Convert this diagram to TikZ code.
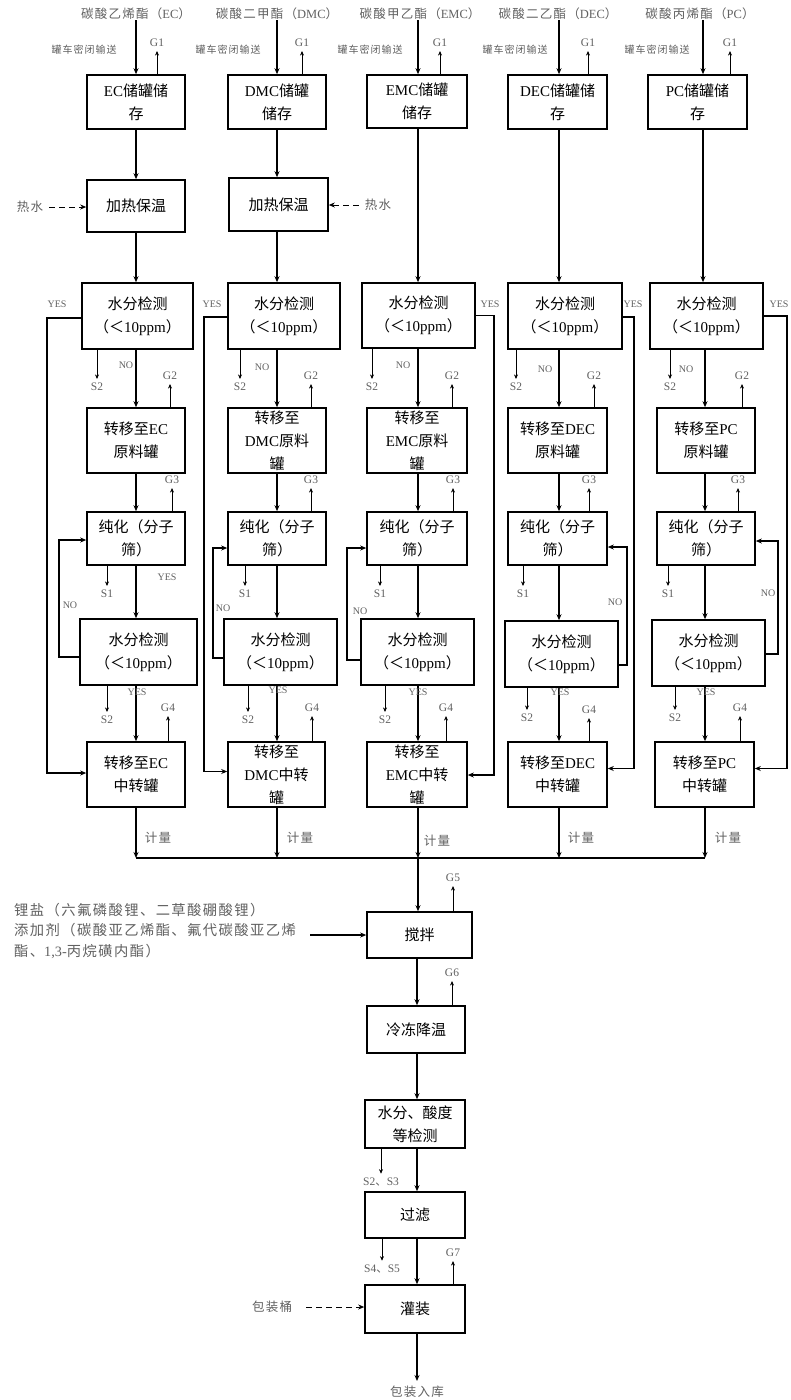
\documentclass[tikz,border=0pt]{standalone}
\usepackage{fontspec}
\setmainfont{Liberation Serif}
\newfontfamily\zh{Noto Sans CJK SC}
\newfontfamily\zhs[LetterSpace=10]{Noto Sans CJK SC}
\usetikzlibrary{arrows.meta}
\definecolor{labgray}{gray}{0.38}
\newcommand\en[1]{{\rmfamily #1}}
\newcommand\zc[1]{{\zh #1}}
\tikzset{
  pbox/.style={draw, line width=1.6pt, inner sep=0pt, align=center, text=black,
               font=\zh\fontsize{15}{23}\selectfont},
  flowline/.style={line width=1.2pt},
  flow/.style={line width=1.2pt, -{Stealth[length=6pt,width=5pt]}},
  dflow/.style={line width=0.9pt, dash pattern=on 6pt off 4pt, -{Stealth[length=6pt,width=5pt]}},
  aux/.style={line width=0.7pt, -{Stealth[length=4.5pt,width=4pt]}},
  lab/.style={text=labgray, inner sep=0pt, font=\rmfamily\fontsize{10}{12}\selectfont},
  glab/.style={text=labgray, inner sep=0pt, font=\rmfamily\fontsize{11.5}{13}\selectfont},
  zlab/.style={text=labgray, inner sep=0pt, font=\zhs\fontsize{12.5}{15}\selectfont},
  zlabs/.style={text=labgray, inner sep=0pt, font=\zhs\fontsize{10}{12}\selectfont},
}
\newcommand\gup[4]{\node[glab] (#1) at #3 {#4};\draw[aux, shorten >=4pt] (#2.north -| #1) -- (#1.south);}
\newcommand\sdn[4]{\node[glab] (#1) at #3 {#4};\draw[aux, shorten >=4pt] (#2.south -| #1) -- (#1.north);}
\begin{document}
\begin{tikzpicture}[x=1pt,y=-1pt]
\fill[white] (0,0) rectangle (790,1400);
\path[use as bounding box] (0,0) rectangle (790,1400);

% column axes
\coordinate (cEC) at (136,0);
\coordinate (cDMC) at (277,0);
\coordinate (cEMC) at (418,0);
\coordinate (cDEC) at (559,0);
\coordinate (cPC) at (705,0);
\coordinate (cPCt) at (703,0);
\coordinate (cM) at (417,0);

% top raw materials
\node[zlab] (tEC) at (136,14) {碳酸乙烯酯（\en{EC}）};
\node[zlab] (tDMC) at (277,14) {碳酸二甲酯（\en{DMC}）};
\node[zlab] (tEMC) at (420,14) {碳酸甲乙酯（\en{EMC}）};
\node[zlab] (tDEC) at (558,14) {碳酸二乙酯（\en{DEC}）};
\node[zlab] (tPC) at (700,14) {碳酸丙烯酯（\en{PC}）};

\node[zlabs] (kEC) at (84,50) {罐车密闭输送};
\node[zlabs] (kDMC) at (228,50) {罐车密闭输送};
\node[zlabs] (kEMC) at (370,50) {罐车密闭输送};
\node[zlabs] (kDEC) at (515,50) {罐车密闭输送};
\node[zlabs] (kPC) at (657,50) {罐车密闭输送};

% storage
\node[pbox, minimum width=98pt, minimum height=54pt] (sEC) at (136,102) {\en{EC}储罐储\\存};
\node[pbox, minimum width=98pt, minimum height=54pt] (sDMC) at (277,102) {\en{DMC}储罐\\储存};
\node[pbox, minimum width=100pt, minimum height=53pt] (sEMC) at (417,101.5) {\en{EMC}储罐\\储存};
\node[pbox, minimum width=99pt, minimum height=54pt] (sDEC) at (557.5,102) {\en{DEC}储罐储\\存};
\node[pbox, minimum width=99pt, minimum height=54pt] (sPC) at (697.5,102) {\en{PC}储罐储\\存};

% heating
\node[pbox, minimum width=98pt, minimum height=52pt] (hEC) at (136,206) {加热保温};
\node[pbox, minimum width=99pt, minimum height=53pt] (hDMC) at (278.5,204.5) {加热保温};
\node[zlab] (hw1) at (30,207) {热水};
\node[zlab] (hw2) at (378,205) {热水};

% moisture check 1
\node[pbox, minimum width=111pt, minimum height=66pt] (m1EC) at (137.5,316) {水分检测\\（＜\en{10ppm}）};
\node[pbox, minimum width=112pt, minimum height=66pt] (m1DMC) at (284,316) {水分检测\\（＜\en{10ppm}）};
\node[pbox, minimum width=113pt, minimum height=65pt] (m1EMC) at (418.5,315.5) {水分检测\\（＜\en{10ppm}）};
\node[pbox, minimum width=114pt, minimum height=66pt] (m1DEC) at (565,316) {水分检测\\（＜\en{10ppm}）};
\node[pbox, minimum width=113pt, minimum height=66pt] (m1PC) at (706.5,316) {水分检测\\（＜\en{10ppm}）};

% transfer to raw tank
\node[pbox, minimum width=98pt, minimum height=65pt] (rEC) at (136,440.5) {转移至\en{EC}\\原料罐};
\node[pbox, minimum width=98pt, minimum height=65pt] (rDMC) at (277,440.5) {转移至\\\en{DMC}原料\\罐};
\node[pbox, minimum width=100pt, minimum height=65pt] (rEMC) at (417,440.5) {转移至\\\en{EMC}原料\\罐};
\node[pbox, minimum width=99pt, minimum height=65pt] (rDEC) at (557.5,440.5) {转移至\en{DEC}\\原料罐};
\node[pbox, minimum width=98pt, minimum height=65pt] (rPC) at (706,440.5) {转移至\en{PC}\\原料罐};

% purification
\node[pbox, minimum width=98pt, minimum height=53pt] (pEC) at (136,538.5) {纯化（分子\\筛）};
\node[pbox, minimum width=98pt, minimum height=53pt] (pDMC) at (277,538.5) {纯化（分子\\筛）};
\node[pbox, minimum width=100pt, minimum height=53pt] (pEMC) at (417,538.5) {纯化（分子\\筛）};
\node[pbox, minimum width=99pt, minimum height=53pt] (pDEC) at (557.5,538.5) {纯化（分子\\筛）};
\node[pbox, minimum width=98pt, minimum height=53pt] (pPC) at (706,538.5) {纯化（分子\\筛）};

% moisture check 2
\node[pbox, minimum width=117pt, minimum height=66pt] (m2EC) at (138.5,652) {水分检测\\（＜\en{10ppm}）};
\node[pbox, minimum width=113pt, minimum height=66pt] (m2DMC) at (280.5,652) {水分检测\\（＜\en{10ppm}）};
\node[pbox, minimum width=113pt, minimum height=66pt] (m2EMC) at (417.5,652) {水分检测\\（＜\en{10ppm}）};
\node[pbox, minimum width=113pt, minimum height=66pt] (m2DEC) at (561.5,654) {水分检测\\（＜\en{10ppm}）};
\node[pbox, minimum width=113pt, minimum height=66pt] (m2PC) at (708.5,653) {水分检测\\（＜\en{10ppm}）};

% transfer to intermediate tank
\node[pbox, minimum width=98pt, minimum height=65pt] (iEC) at (136,774.5) {转移至\en{EC}\\中转罐};
\node[pbox, minimum width=97pt, minimum height=65pt] (iDMC) at (276.5,774.5) {转移至\\\en{DMC}中转\\罐};
\node[pbox, minimum width=100pt, minimum height=65pt] (iEMC) at (417,774.5) {转移至\\\en{EMC}中转\\罐};
\node[pbox, minimum width=99pt, minimum height=65pt] (iDEC) at (557.5,774.5) {转移至\en{DEC}\\中转罐};
\node[pbox, minimum width=99pt, minimum height=65pt] (iPC) at (704.5,774.5) {转移至\en{PC}\\中转罐};

% lower chain
\node[pbox, minimum width=105pt, minimum height=46pt] (mix) at (419.5,935) {搅拌};
\node[pbox, minimum width=98pt, minimum height=47pt] (cool) at (416,1029.5) {冷冻降温};
\node[pbox, minimum width=100pt, minimum height=48pt] (chk) at (415,1124) {水分、酸度\\等检测};
\node[pbox, minimum width=100pt, minimum height=46pt] (filt) at (415,1215) {过滤};
\node[pbox, minimum width=100pt, minimum height=48pt] (fill) at (415,1309) {灌装};

% ---- main flow arrows
\foreach \c/\t/\s in {EC/tEC/sEC, DMC/tDMC/sDMC, EMC/tEMC/sEMC, DEC/tDEC/sDEC}{
  \draw[flow] (\t.south -| c\c) -- (\s.north -| c\c);
}
\draw[flow] (tPC.south -| cPCt) -- (sPC.north -| cPCt);

\draw[flow] (sEC.south -| cEC) -- (hEC.north -| cEC);
\draw[flow] (hEC.south -| cEC) -- (m1EC.north -| cEC);
\draw[flow] (sDMC.south -| cDMC) -- (hDMC.north -| cDMC);
\draw[flow] (hDMC.south -| cDMC) -- (m1DMC.north -| cDMC);
\draw[flow] (sEMC.south -| cEMC) -- (m1EMC.north -| cEMC);
\draw[flow] (sDEC.south -| cDEC) -- (m1DEC.north -| cDEC);
\draw[flow] (sPC.south -| cPCt) -- (m1PC.north -| cPCt);

\foreach \c in {EC,DMC,EMC,DEC,PC}{
  \draw[flow] (m1\c.south -| c\c) -- (r\c.north -| c\c);
  \draw[flow] (r\c.south -| c\c) -- (p\c.north -| c\c);
  \draw[flow] (p\c.south -| c\c) -- (m2\c.north -| c\c);
  \draw[flow] (m2\c.south -| c\c) -- (i\c.north -| c\c);
}

% hot water
\draw[dflow, shorten <=6pt] (hw1.east) -- (hEC.west |- hw1);
\draw[dflow, shorten <=6pt] (hw2.west) -- (hDMC.east |- hw2);

% YES bypass lines
\coordinate (yEC) at (47,0);
\coordinate (yDMC) at (204,0);
\coordinate (yEMC) at (494,0);
\coordinate (yDEC) at (634,0);
\coordinate (yPC) at (787,0);
\draw[flow] ([yshift=-2pt]m1EC.west) -- ([yshift=-2pt]m1EC.west -| yEC) -- ([yshift=1.5pt]iEC.west -| yEC) -- ([yshift=1.5pt]iEC.west);
\draw[flow] ([yshift=-1pt]m1DMC.west) -- ([yshift=-1pt]m1DMC.west -| yDMC) -- ([yshift=3pt]iDMC.west -| yDMC) -- ([yshift=3pt]iDMC.west);
\draw[flow] (m1EMC.east) -- (m1EMC.east -| yEMC) -- ([yshift=-0.5pt]iEMC.east -| yEMC) -- ([yshift=-0.5pt]iEMC.east);
\draw[flow] ([yshift=-1pt]m1DEC.east) -- ([yshift=-1pt]m1DEC.east -| yDEC) -- ([yshift=6pt]iDEC.east -| yDEC) -- ([yshift=6pt]iDEC.east);
\draw[flow] (m1PC.east) -- (m1PC.east -| yPC) -- ([yshift=6pt]iPC.east -| yPC) -- ([yshift=6pt]iPC.east);
\node[lab] (yl1) at (57,304) {YES};
\node[lab] (yl2) at (212,304) {YES};
\node[lab] (yl3) at (490,304) {YES};
\node[lab] (yl4) at (633,304) {YES};
\node[lab] (yl5) at (779,304) {YES};

% NO loops
\coordinate (nEC) at (59,0);
\coordinate (nDMC) at (213,0);
\coordinate (nEMC) at (347,0);
\coordinate (nDEC) at (627,0);
\coordinate (nPC) at (778,0);
\draw[flow] ([yshift=-5pt]m2EC.west) -- ([yshift=-5pt]m2EC.west -| nEC) -- ([yshift=-1.5pt]pEC.west -| nEC) -- ([yshift=-1.5pt]pEC.west);
\draw[flow] ([yshift=-6pt]m2DMC.west) -- ([yshift=-6pt]m2DMC.west -| nDMC) -- ([yshift=-9.5pt]pDMC.west -| nDMC) -- ([yshift=-9.5pt]pDMC.west);
\draw[flow] ([yshift=-8pt]m2EMC.west) -- ([yshift=-8pt]m2EMC.west -| nEMC) -- ([yshift=-9.5pt]pEMC.west -| nEMC) -- ([yshift=-9.5pt]pEMC.west);
\draw[flow] ([yshift=-11pt]m2DEC.east) -- ([yshift=-11pt]m2DEC.east -| nDEC) -- ([yshift=-8.5pt]pDEC.east -| nDEC) -- ([yshift=-8.5pt]pDEC.east);
\draw[flow] ([yshift=-1pt]m2PC.east) -- ([yshift=-1pt]m2PC.east -| nPC) -- ([yshift=-2.5pt]pPC.east -| nPC) -- ([yshift=-2.5pt]pPC.east);
\node[lab] (nl1) at (70,605) {NO};
\node[lab] (nl2) at (223,608) {NO};
\node[lab] (nl3) at (360,611) {NO};
\node[lab] (nl4) at (615,602) {NO};
\node[lab] (nl5) at (768,593) {NO};

% NO labels under first check, YES labels
\node[lab] (no1) at (126,365) {NO};
\node[lab] (no2) at (262,367) {NO};
\node[lab] (no3) at (403,365) {NO};
\node[lab] (no4) at (545,369) {NO};
\node[lab] (no5) at (686,369) {NO};
\node[lab] (ye0) at (167,577) {YES};
\node[lab] (ye1) at (137,692) {YES};
\node[lab] (ye2) at (278,690) {YES};
\node[lab] (ye3) at (418,692) {YES};
\node[lab] (ye4) at (560,692) {YES};
\node[lab] (ye5) at (706,692) {YES};

% G emissions
\gup{g1a}{sEC}{(157,43)}{G1}
\gup{g1b}{sDMC}{(302,43)}{G1}
\gup{g1c}{sEMC}{(440,43)}{G1}
\gup{g1d}{sDEC}{(588,43)}{G1}
\gup{g1e}{sPC}{(730,43)}{G1}
\gup{g2a}{rEC}{(170,376)}{G2}
\gup{g2b}{rDMC}{(311,376)}{G2}
\gup{g2c}{rEMC}{(452,376)}{G2}
\gup{g2d}{rDEC}{(594,376)}{G2}
\gup{g2e}{rPC}{(742,376)}{G2}
\gup{g3a}{pEC}{(172,480)}{G3}
\gup{g3b}{pDMC}{(311,480)}{G3}
\gup{g3c}{pEMC}{(453,480)}{G3}
\gup{g3d}{pDEC}{(589,480)}{G3}
\gup{g3e}{pPC}{(738,480)}{G3}
\gup{g4a}{iEC}{(168,708)}{G4}
\gup{g4b}{iDMC}{(312,708)}{G4}
\gup{g4c}{iEMC}{(446,708)}{G4}
\gup{g4d}{iDEC}{(589,710)}{G4}
\gup{g4e}{iPC}{(740,708)}{G4}
\gup{g5}{mix}{(453,878)}{G5}
\gup{g6}{cool}{(452,973)}{G6}
\gup{g7}{fill}{(453,1253)}{G7}

% S emissions
\sdn{s2a}{m1EC}{(97,387)}{S2}
\sdn{s2b}{m1DMC}{(240,387)}{S2}
\sdn{s2c}{m1EMC}{(372,387)}{S2}
\sdn{s2d}{m1DEC}{(516,387)}{S2}
\sdn{s2e}{m1PC}{(670,387)}{S2}
\sdn{s1a}{pEC}{(107,594)}{S1}
\sdn{s1b}{pDMC}{(245,594)}{S1}
\sdn{s1c}{pEMC}{(380,594)}{S1}
\sdn{s1d}{pDEC}{(523,594)}{S1}
\sdn{s1e}{pPC}{(668,594)}{S1}
\sdn{s3a}{m2EC}{(107,720)}{S2}
\sdn{s3b}{m2DMC}{(248,720)}{S2}
\sdn{s3c}{m2EMC}{(385,720)}{S2}
\sdn{s3d}{m2DEC}{(527,718)}{S2}
\sdn{s3e}{m2PC}{(675,718)}{S2}
\sdn{s23}{chk}{(381,1182)}{S2\zc{、}S3}
\sdn{s45}{filt}{(382,1269)}{S4\zc{、}S5}

% metering and collector
\node[zlab] (q1) at (158,838) {计量};
\node[zlab] (q2) at (300,838) {计量};
\node[zlab] (q3) at (437,841) {计量};
\node[zlab] (q4) at (581,838) {计量};
\node[zlab] (q5) at (728,838) {计量};
\coordinate (jEC) at (136,858);
\coordinate (jDMC) at (277,858);
\coordinate (jEMC) at (418,858);
\coordinate (jDEC) at (559,858);
\coordinate (jPC) at (705,858);
\foreach \c in {EC,DMC,EMC,DEC,PC}{
  \draw[flow] (i\c.south -| j\c) -- (j\c);
}
\draw[flowline] (jEC) -- (jPC);
\draw[flow] (jEMC) -- (mix.north -| jEMC);

% additives
\node[zlab, align=left, anchor=north west, font=\zhs\fontsize{14.3}{20.5}\selectfont] (salt) at (14,903)
  {锂盐（六氟磷酸锂、二草酸硼酸锂）\\添加剂（碳酸亚乙烯酯、氟代碳酸亚乙烯\\酯、\en{1,3-}丙烷磺内酯）};
\coordinate (saltend) at (310,935);
\draw[flow] (saltend) -- (mix.west |- saltend);

% lower chain flow
\draw[flow] (mix.south -| cM) -- (cool.north -| cM);
\draw[flow] (cool.south -| cM) -- (chk.north -| cM);
\draw[flow] (chk.south -| cM) -- (filt.north -| cM);
\draw[flow] (filt.south -| cM) -- (fill.north -| cM);
\node[zlab] (barrel) at (272,1307) {包装桶};
\draw[dflow, shorten <=14pt] (barrel.east) -- (fill.west |- barrel);
\node[zlab] (store) at (417,1392) {包装入库};
\draw[flow, shorten >=5pt] (fill.south -| cM) -- (store.north);
\end{tikzpicture}
\end{document}
